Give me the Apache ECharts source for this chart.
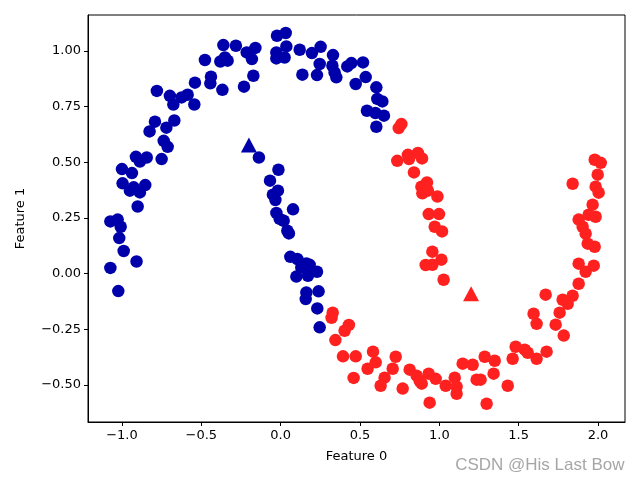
<!DOCTYPE html>
<html><head><meta charset="utf-8">
<script src="https://cdn.jsdelivr.net/npm/echarts@6/dist/echarts.min.js"></script>
<style>html,body{margin:0;padding:0;background:#fff}#c{width:640px;height:480px}</style>
</head><body><div id="c"></div>
<script>
const xTicks = [-1.0, -0.5, 0.0, 0.5, 1.0, 1.5, 2.0];
const yTicks = [-0.50, -0.25, 0.00, 0.25, 0.50, 0.75, 1.00];
const cluster0 = [
[-0.361,1.027],[-0.282,1.024],[-0.159,1.014],[-0.214,0.994],[-0.181,0.964],[-0.351,0.971],[-0.380,0.953],[-0.334,0.957],[-0.477,0.960],[-0.172,0.889],
[-0.231,0.840],[-0.439,0.885],[-0.443,0.855],[-0.367,0.826],[-0.540,0.858],[-0.780,0.821],[-0.698,0.799],[-0.624,0.792],[-0.586,0.804],[-0.676,0.760],
[-0.544,0.760],[-0.670,0.688],[-0.792,0.683],[-0.720,0.656],[-0.826,0.639],[-0.737,0.597],[-0.712,0.570],[-0.912,0.525],[-0.844,0.522],[-0.887,0.504],
[-0.750,0.515],[-1.000,0.470],[-0.937,0.452],[-0.996,0.406],[-0.926,0.388],[-0.853,0.398],[-0.950,0.373],[-0.887,0.365],[-0.901,0.302],[-1.073,0.235],
[-1.027,0.243],[-1.008,0.211],[-1.017,0.160],[-0.989,0.102],[-0.908,0.055],[-1.073,0.026],[-1.023,-0.078],[-0.137,0.522],[-0.023,1.069],[0.032,1.081],
[-0.027,0.994],[0.036,1.021],[0.025,0.971],[-0.027,0.967],[0.120,1.006],[0.197,0.991],[0.252,1.019],[0.330,0.982],[0.246,0.942],[0.326,0.934],
[0.340,0.904],[0.351,0.882],[0.229,0.892],[0.137,0.894],[0.420,0.931],[0.446,0.946],[0.519,0.949],[0.536,0.883],[0.473,0.852],[0.603,0.837],
[0.609,0.785],[0.641,0.774],[0.544,0.732],[0.597,0.722],[0.651,0.710],[0.603,0.660],[-0.014,0.467],[-0.067,0.418],[-0.017,0.373],[-0.049,0.355],
[-0.033,0.331],[-0.027,0.273],[0.078,0.289],[0.019,0.238],[-0.006,0.246],[0.042,0.193],[0.052,0.181],[0.061,0.076],[0.105,0.066],[0.162,0.046],
[0.183,0.040],[0.130,0.028],[0.229,0.009],[0.099,-0.013],[0.172,-0.009],[0.162,-0.084],[0.158,-0.114],[0.239,-0.079],[0.231,-0.156],[0.246,-0.241]
];
const cluster1 = [
[0.761,0.672],[0.744,0.654],[0.735,0.507],[0.802,0.534],[0.809,0.515],[0.865,0.542],[0.891,0.518],[0.840,0.455],[0.922,0.410],[0.887,0.391],
[0.893,0.361],[0.928,0.373],[0.988,0.347],[0.933,0.268],[0.998,0.268],[0.971,0.211],[1.017,0.190],[0.956,0.099],[1.013,0.063],[0.914,0.039],
[0.956,0.040],[1.027,-0.027],[0.328,-0.175],[0.321,-0.198],[0.430,-0.230],[0.403,-0.256],[0.345,-0.298],[0.393,-0.371],[0.473,-0.371],[0.582,-0.350],
[0.599,-0.398],[0.548,-0.427],[0.725,-0.373],[0.706,-0.427],[0.460,-0.468],[0.655,-0.467],[0.630,-0.503],[0.769,-0.516],[0.813,-0.431],[0.857,-0.458],
[0.876,-0.481],[0.889,-0.494],[0.933,-0.449],[0.977,-0.472],[0.939,-0.579],[1.097,-0.467],[1.040,-0.503],[1.109,-0.507],[1.109,-0.539],[1.147,-0.404],
[1.210,-0.409],[1.286,-0.373],[1.349,-0.391],[1.342,-0.449],[1.235,-0.476],[1.260,-0.476],[1.298,-0.584],[1.878,-0.045],[1.670,-0.094],[1.777,-0.117],
[1.840,-0.099],[1.809,-0.135],[1.758,-0.175],[1.594,-0.180],[1.613,-0.225],[1.733,-0.229],[1.784,-0.278],[1.481,-0.328],[1.538,-0.341],[1.557,-0.355],
[1.462,-0.382],[1.613,-0.382],[1.676,-0.350],[1.431,-0.503],[1.979,0.512],[2.017,0.498],[1.998,0.445],[1.840,0.404],[1.985,0.391],[2.004,0.364],
[1.966,0.310],[1.941,0.265],[1.985,0.256],[1.878,0.243],[1.903,0.211],[1.922,0.180],[1.935,0.135],[1.979,0.121],[1.878,0.045],[1.922,0.009],
[1.973,0.036]
];
const centers0 = [[-0.20, 0.578]];
const centers1 = [[1.20, -0.090]];

const fmt = (d) => (v) => { const s = Math.abs(v).toFixed(d); return v < -1e-9 ? '\u2212' + s : s; };
const font = 'DejaVu Sans';
const chart = echarts.init(document.getElementById('c'), null, {renderer: 'canvas'});
chart.setOption({
  animation: false,
  backgroundColor: '#fff',
  grid: {left: 88, right: 15, top: 15, bottom: 58, show: true, borderColor: '#000', borderWidth: 1, backgroundColor: 'transparent'},
  xAxis: {
    type: 'value', min: -1.214, max: 2.170,
    name: 'Feature 0', nameLocation: 'middle', nameGap: 28,
    nameTextStyle: {fontFamily: font, fontSize: 13, color: '#000'},
    axisLine: {show: true, onZero: false, lineStyle: {color: '#000', width: 1}},
    axisTick: {show: true, length: 4, inside: false, customValues: xTicks, lineStyle: {color: '#000'}},
    axisLabel: {customValues: xTicks, formatter: fmt(1), fontFamily: font, fontSize: 13, color: '#000', margin: 7},
    splitLine: {show: false}
  },
  yAxis: {
    type: 'value', min: -0.666, max: 1.162,
    name: 'Feature 1', nameLocation: 'middle', nameGap: 61, nameRotate: 90,
    nameTextStyle: {fontFamily: font, fontSize: 13, color: '#000'},
    axisLine: {show: true, onZero: false, lineStyle: {color: '#000', width: 1}},
    axisTick: {show: true, length: 4, inside: false, customValues: yTicks, lineStyle: {color: '#000'}},
    axisLabel: {customValues: yTicks, formatter: fmt(2), fontFamily: font, fontSize: 13, color: '#000', margin: 7},
    splitLine: {show: false}
  },
  series: [
    {type: 'scatter', data: cluster0, symbol: 'circle', symbolSize: 12.5, itemStyle: {color: '#0000aa', opacity: 1}, z: 2},
    {type: 'scatter', data: cluster1, symbol: 'circle', symbolSize: 12.5, itemStyle: {color: '#ff2020', opacity: 1}, z: 2},
    {type: 'scatter', data: centers0, symbol: 'triangle', symbolSize: [16, 15], itemStyle: {color: '#0000aa', opacity: 1}, z: 3},
    {type: 'scatter', data: centers1, symbol: 'triangle', symbolSize: [16, 15], itemStyle: {color: '#ff2020', opacity: 1}, z: 3}
  ],
  graphic: [{
    type: 'text', right: 15, bottom: 6,
    style: {text: 'CSDN @His Last Bow', font: '17px "Liberation Sans", Arial, sans-serif', fill: '#a6a6a6', stroke: '#fff', lineWidth: 1}
  }]
});
</script></body></html>
